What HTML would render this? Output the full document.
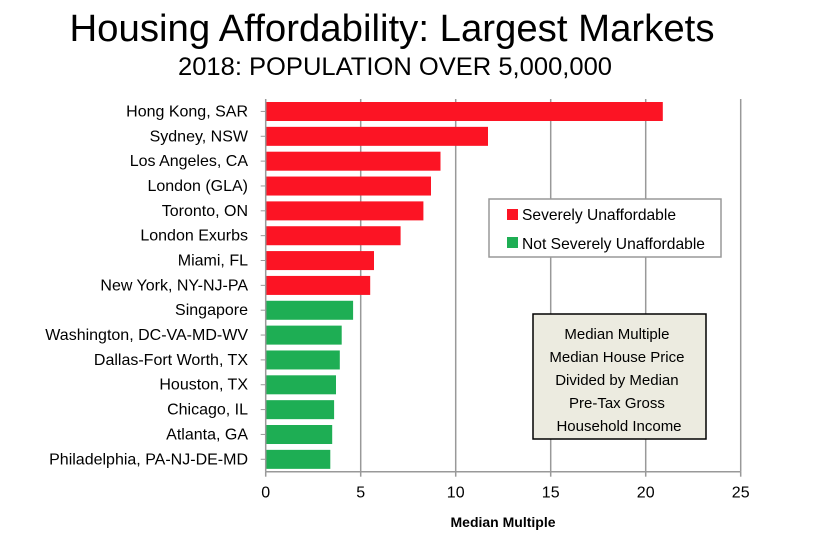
<!DOCTYPE html>
<html><head><meta charset="utf-8"><style>
html,body{margin:0;padding:0;background:#fff;}
svg{display:block;font-family:"Liberation Sans",Arial,sans-serif;}
</style></head><body>
<svg id="chart" width="836" height="534" viewBox="0 0 836 534">
<text x="392" y="41" font-size="38" text-anchor="middle" textLength="645" lengthAdjust="spacingAndGlyphs">Housing Affordability: Largest Markets</text>
<text x="395" y="75" font-size="25" text-anchor="middle" textLength="434" lengthAdjust="spacingAndGlyphs">2018: POPULATION OVER 5,000,000</text>
<g id="grid"></g><g id="bars"></g><g id="axes"></g>
<g>
<rect x="489" y="199" width="232" height="58" fill="#fff" stroke="#999" stroke-width="1.5"/>
<rect x="507" y="209" width="11" height="11" fill="#fc1424"/>
<text x="522" y="220" font-size="16" textLength="154" lengthAdjust="spacingAndGlyphs">Severely Unaffordable</text>
<rect x="507" y="237" width="11" height="11" fill="#1eae54"/>
<text x="522" y="249" font-size="16" textLength="183" lengthAdjust="spacingAndGlyphs">Not Severely Unaffordable</text>
</g>
<g>
<rect x="533" y="314" width="173" height="125" fill="#ecebe0" stroke="#000" stroke-width="1.5"/>
<text font-size="15" text-anchor="middle">
<tspan x="619" y="339">Median Multiple</tspan>
<tspan x="619" y="362">Median House Price</tspan>
<tspan x="619" y="385">Divided by Median</tspan>
<tspan x="619" y="408">Pre-Tax Gross</tspan>
<tspan x="619" y="431">Household Income</tspan>
</text>
</g>
<text x="503" y="527" font-size="14" font-weight="bold" text-anchor="middle">Median Multiple</text>
</svg>
<script>
const categories=["Hong Kong, SAR","Sydney, NSW","Los Angeles, CA","London (GLA)","Toronto, ON","London Exurbs","Miami, FL","New York, NY-NJ-PA","Singapore","Washington, DC-VA-MD-WV","Dallas-Fort Worth, TX","Houston, TX","Chicago, IL","Atlanta, GA","Philadelphia, PA-NJ-DE-MD"];
const values=[20.9,11.7,9.2,8.7,8.3,7.1,5.7,5.5,4.6,4.0,3.9,3.7,3.6,3.5,3.4];
const severe=[true,true,true,true,true,true,true,true,false,false,false,false,false,false,false];
const ticks=[0,5,10,15,20,25];
const NS="http://www.w3.org/2000/svg";
const x0=265.7,x1=740.7,yTop=99,yBot=471.7,xMax=25;
const xs=v=>x0+(x1-x0)*v/xMax;
const band=(yBot-yTop)/categories.length;
function mk(tag,attrs,parent){const e=document.createElementNS(NS,tag);for(const k in attrs)e.setAttribute(k,attrs[k]);parent.appendChild(e);return e;}
const grid=document.getElementById('grid'),bars=document.getElementById('bars'),axes=document.getElementById('axes');
ticks.forEach(t=>{
 if(t>0){const g=mk('line',{x1:xs(t),x2:xs(t),y1:yTop,y2:yBot,stroke:'#999','stroke-width':1.5},grid);
 
 }
 const tk=mk('line',{x1:xs(t),x2:xs(t),y1:yBot,y2:yBot+5,stroke:'#999','stroke-width':1.5},axes);
 
 
 const lb=mk('text',{x:xs(t),y:yBot+26,'font-size':16,'text-anchor':'middle'},axes);lb.textContent=t;
 
 
});
categories.forEach((c,i)=>{
 const yb=yTop+band*i;
 const r=mk('rect',{x:x0,y:yb+3,width:xs(values[i])-x0,height:19,fill:severe[i]?'#fc1424':'#1eae54'},bars);
 
 
 const tk=mk('line',{x1:x0-5,x2:x0,y1:yb+band/2,y2:yb+band/2,stroke:'#999','stroke-width':1},axes);
 
 
 const lb=mk('text',{x:248,y:yb+band/2+5,'font-size':16,'text-anchor':'end'},axes);lb.textContent=c;
 
 
});
const ya=mk('line',{x1:x0,x2:x0,y1:yTop,y2:yBot,stroke:'#999','stroke-width':1.5},axes);


const xa=mk('line',{x1:x0,x2:x1,y1:yBot,y2:yBot,stroke:'#999','stroke-width':1.5},axes);


</script>
</body></html>
